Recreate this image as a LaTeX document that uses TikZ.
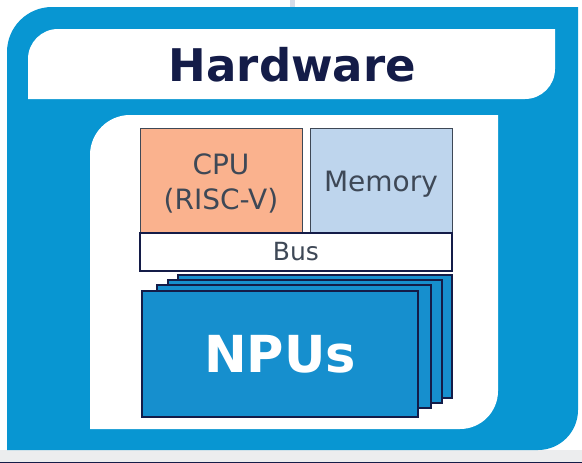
\documentclass[tikz,border=0pt]{standalone}
\usepackage{fontspec}
\setmainfont{DejaVu Sans}
\usepackage{tikz}

\definecolor{hwblue}{RGB}{8,150,210}
\definecolor{npublue}{RGB}{22,143,206}
\definecolor{navy}{RGB}{20,28,72}
\definecolor{cpufill}{RGB}{250,178,142}
\definecolor{memfill}{RGB}{190,213,237}
\definecolor{labelgray}{RGB}{62,72,86}
\definecolor{framegray}{RGB}{236,237,238}

\tikzset{
  unitbox/.style={rectangle, inner sep=0pt, draw=labelgray, line width=0.9pt, text=labelgray, align=center, font=\fontsize{28}{35}\selectfont},
  npubox/.style={rectangle, inner sep=0pt, draw=navy, fill=npublue, line width=2pt}
}

\begin{document}
\begin{tikzpicture}[x=1pt,y=1pt,yscale=-1]
\useasboundingbox (0,0) rectangle (582,463);

%Shape: Rectangle (bottom strip)
\fill [framegray] (0,450) rectangle (582,463);
\draw [navy, line width=0.8pt] (0,462.5) -- (582,462.5);
%Shape: Rectangle (top strip)
\fill [fill={rgb,255:red,214;green,220;blue,232}] (290,0) rectangle (295,7);

%Shape: outer frame
\fill [hwblue] (7,450) [rounded corners=45pt] -- (7,7) [sharp corners] -- (578,7) [rounded corners=40pt] -- (578,450) [sharp corners] -- cycle;
%Shape: title banner
\fill [white] (28,99) [rounded corners=30pt] -- (28,29) [sharp corners] -- (555,29) [rounded corners=30pt] -- (555,99) [sharp corners] -- cycle;
%Shape: inner panel
\fill [white] (90,429) [rounded corners=40pt] -- (90,115) [sharp corners] -- (498,115) [rounded corners=38pt] -- (498,429) [sharp corners] -- cycle;

% Text Node
\node (title) [anchor=base, inner sep=0pt, text=navy, font=\fontsize{45}{54}\selectfont\bfseries] at (292.5,81) {Hardware};

%Shape: CPU and Memory
\node (cpu) [unitbox, fill=cpufill, minimum width=162pt, minimum height=105pt, text height=61pt] at (221,180.5) {CPU\\(RISC-V)};
\node (mem) [unitbox, fill=memfill, minimum width=142pt, minimum height=105pt, text height=28pt] at (381,180.5) {Memory};
%Shape: Bus
\node (bus) [unitbox, fill=white, draw=navy, line width=1.4pt, minimum width=312pt, minimum height=38pt, font=\fontsize{25}{30}\selectfont] at (296,252) {Bus};

%Shape: NPU stack (back to front)
\foreach \cx/\cy/\k in {315/336.5/3, 304.5/341.5/2, 293.5/346.5/1}
  \node (npu\k) [npubox, minimum width=274pt, minimum height=123pt] at (\cx,\cy) {};
\node (npu) [npubox, line width=2.6pt, minimum width=276pt, minimum height=126pt, text=white, font=\fontsize{51}{60}\selectfont\bfseries] at (280,354) {NPUs};

\end{tikzpicture}
\end{document}
